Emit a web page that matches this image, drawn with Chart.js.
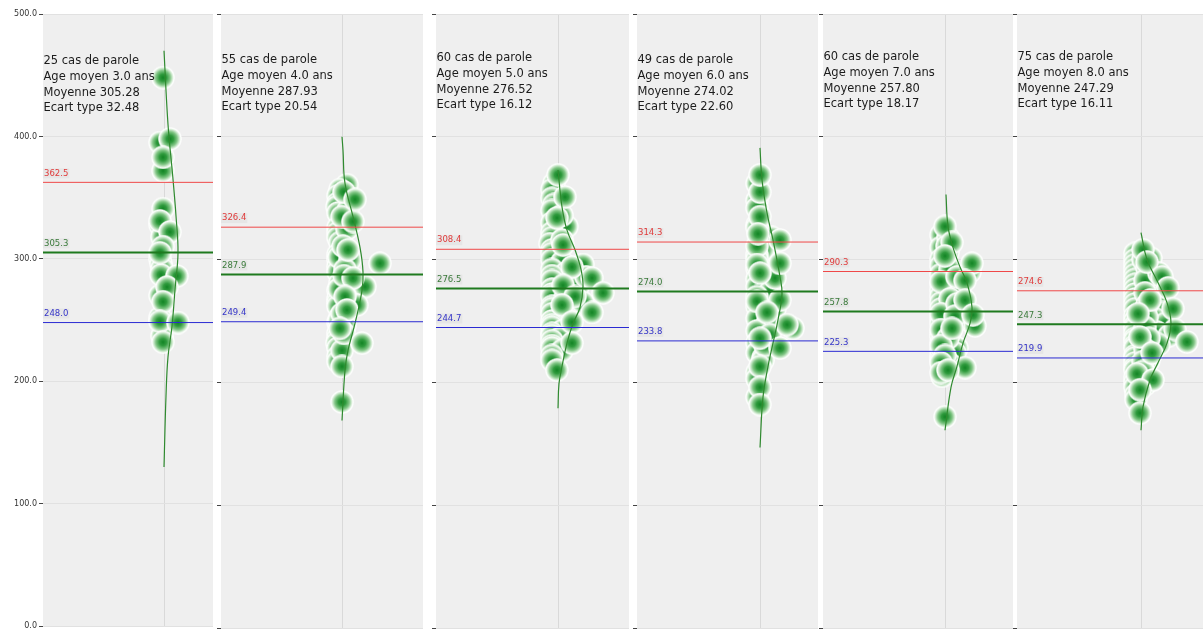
<!DOCTYPE html>
<html>
<head>
<meta charset="utf-8">
<script src="https://cdn.jsdelivr.net/npm/chart.js@4"></script>
<style>
    html, body { margin: 0; padding: 0; background: #fff; }
    #wrap { position: relative; width: 1203px; height: 633px; overflow: hidden; }
    .panel { position: absolute; top: 0; height: 633px; }
</style>
</head>
<body>
<div id="wrap"></div>
<script>
// ---- data ----
const casParole = [25, 55, 60, 49, 60, 75];
const ageMoyen = [3.0, 4.0, 5.0, 6.0, 7.0, 8.0];
const moyennes = [305.28, 287.93, 276.52, 274.02, 257.80, 247.29];
const ecartsType = [32.48, 20.54, 16.12, 22.60, 18.17, 16.11];
const ligneHaute = [362.5, 326.4, 308.4, 314.3, 290.3, 274.6];
const ligneMoyenne = [305.3, 287.9, 276.5, 274.0, 257.8, 247.3];
const ligneBasse = [248.0, 249.4, 244.7, 233.8, 225.3, 219.9];
const yTicks = [0, 100, 200, 300, 400, 500];

// points of each swarm (value, horizontal offset in the swarm), back ones first
const valeurs1 = [395, 328, 300, 296, 292, 287, 270, 252, 237, 318,
    448, 398, 372, 383, 341, 331, 322, 310, 305, 286, 277, 265, 249, 248, 232];
const decal1 = [-4, -4, -4, -3, -2, -3, -4, -4, -2, -2,
    -1, 6, -1, -1, -1, -4, 6, -1, -4, 13, 3, -1, -4, 14, -1];

const valeurs2 = [361, 357, 352, 346, 343, 338, 326, 322, 318, 314, 304, 300, 294, 290, 281, 275, 268, 265, 262, 253,
    249, 240, 236, 232, 228, 221, 217, 250, 276, 302, 278, 263, 340, 325, 300, 246, 226, 292, 355, 335, 311, 287, 256, 240,
    349, 331, 308, 297, 285, 270, 259, 244, 232, 213, 184];
const decal2 = [5, -2, -4, -4, -5, -4, -4, -4, -4, -2, -4, -4, -4, -4, -2, -4, -4, -4, -4, -2,
    -4, -4, -4, -5, -4, -4, -4, -3, -3, -3, 23, 15, 6, 5, 8, 3, 0, 3, 2, 0, 1, 2, 0, 2,
    13, 11, 6, 38, 11, 3, 5, -2, 20, 0, 0];

const valeurs3 = [362, 357, 350, 345, 340, 330, 327, 322, 318, 313, 308, 305, 300, 298, 292, 289, 287, 283, 281, 278,
    276, 272, 270, 267, 265, 262, 260, 256, 253, 250, 247, 245, 242, 240, 238, 236, 234, 230, 228, 226,
    222, 218, 316, 336, 296, 286,
    369, 351, 334, 312, 294, 285, 279, 273, 270, 263, 257, 249, 232, 210];
const decal3 = [-4, -6, -6, -4, -6, -6, 9, -6, -6, -8, -6, -6, -6, 4, -6, 8, -6, -6, 12, 20,
    -6, -6, -6, 6, 25, -6, -6, -6, 6, -6, -6, -6, 4, -6, -6, 2, -6, -6, -6, 4,
    -6, -6, 4, 4, 25, 28,
    0, 7, -1, 5, 14, 34, 5, 45, 17, 4, 34, 14, 14, -1];

const valeurs4 = [362, 348, 342, 328, 318, 308, 304, 300, 293, 284, 280, 278, 274, 270, 262, 260, 252, 250, 244, 242,
    232, 224, 220, 218, 208, 203, 188, 230, 311, 326, 285, 239, 266, 296,
    355, 369, 335, 321, 316, 297, 289, 267, 257, 247, 236, 228, 213, 196, 182];
const decal4 = [-3, -3, -3, -3, 12, 3, -3, -3, -3, -3, 7, -3, 10, -3, -3, 15, -3, 8, 33, -3,
    -3, -3, 3, 3, -3, -3, -3, 5, -3, -3, 15, 10, -3, -3,
    0, 0, 0, -2, 20, 20, 0, 20, 7, 27, 0, 20, 0, 0, 0];

const valeurs5 = [320, 310, 300, 295, 290, 288, 285, 280, 277, 275, 272, 270, 265, 262, 260, 258, 252, 250, 248, 246,
    240, 237, 234, 232, 228, 226, 224, 221, 218, 215, 205, 241, 251, 318, 306, 292, 282, 268, 256, 243,
    236, 230, 222, 216, 208, 311, 286, 264, 254,
    327, 314, 303, 297, 283, 267, 255, 244, 212, 210, 172];
const decal5 = [-4, -4, -4, -4, 25, -4, 8, -4, 8, -4, 15, -4, -4, 5, -4, 15, -4, 25, -4, 30,
    -4, -4, 3, -4, 12, -4, 10, -4, -4, 5, -3, 5, 5, 3, 3, 5, -4, 5, -4, -4,
    3, -4, 0, -4, -4, 2, 12, 12, 10,
    0, 7, 0, 27, 20, 20, 28, 7, 20, 3, 0];

const valeurs6 = [305, 300, 296, 292, 290, 288, 284, 281, 280, 276, 274, 272, 270, 268, 264, 262, 260, 257, 254, 252,
    250, 248, 246, 244, 241, 240, 238, 236, 234, 231, 230, 228, 226, 222, 220, 218, 216, 214, 212, 210,
    206, 204, 200, 198, 196, 190, 186, 300, 293, 283, 273, 263, 253, 245, 236, 227, 217, 209, 301, 289,
    308, 298, 286, 277, 267, 260, 256, 243, 237, 233, 224, 207, 202, 194, 175];
const decal6 = [-6, -6, -6, -6, 12, -6, -6, 14, -6, -6, 16, -6, 20, -6, -6, 18, -6, 22, -6, 14,
    -6, 24, -6, -6, 16, -6, 28, -6, -6, 18, -6, -6, 6, -6, -6, 8, -6, 4, -6, -6,
    6, -6, -6, 4, -6, -5, -5, 2, 6, 4, 4, 6, 6, 4, 8, 4, 2, 2, 10, 18,
    2, 6, 21, 27, 9, 32, -3, 34, -1, 46, 11, -4, 12, -1, -1];

// density curve of each panel, read along its length (value, offset)
const courbeY1 = [470, 410, 365, 335, 305, 275, 245, 220, 188, 130];
const courbeX1 = [0, 4, 9, 12, 14, 11, 8, 4, 2, 0];
const courbeY2 = [400, 389, 362, 335, 310, 290, 275, 248, 226, 210, 169];
const courbeX2 = [0, 1, 3, 11, 18, 21, 20, 13, 6, 3, 0];
const courbeY3 = [373, 343, 324, 308, 292, 278, 261, 248, 232, 213, 199, 179];
const courbeX3 = [0, 4, 9, 17, 23, 25, 22, 15, 9, 4, 1, 0];
const courbeY4 = [391, 365, 338, 316, 286, 272, 251, 232, 213, 188, 147];
const courbeX4 = [0, 2, 7, 13, 20, 22, 18, 13, 8, 3, 0];
const courbeY5 = [353, 327, 310, 294, 281, 261, 248, 232, 213, 196, 161];
const courbeX5 = [1, 3, 8, 15, 22, 27, 25, 18, 12, 6, 0];
const courbeY6 = [322, 300, 283, 265, 248, 232, 216, 202, 180, 161];
const courbeX6 = [0, 6, 16, 26, 30, 26, 17, 9, 2, 0];

const valeurs = [valeurs1, valeurs2, valeurs3, valeurs4, valeurs5, valeurs6];
const decalages = [decal1, decal2, decal3, decal4, decal5, decal6];
const courbesY = [courbeY1, courbeY2, courbeY3, courbeY4, courbeY5, courbeY6];
const courbesX = [courbeX1, courbeX2, courbeX3, courbeX4, courbeX5, courbeX6];

// ---- layout ----
const panelLeft = [43, 221, 436, 637, 823, 1017];
const panelRight = [213, 423, 629, 818, 1013, 1203];
const panelCenter = [164, 342, 558, 760, 945, 1141];
const texteTop = [61, 60, 58, 60, 57, 57];

function creerBulle() {
    const c = document.createElement("canvas");
    c.width = 24;
    c.height = 24;
    const g = c.getContext("2d");
    const grad = g.createRadialGradient(12, 12, 0, 12, 12, 12);
    grad.addColorStop(0, "rgb(18,132,36)");
    grad.addColorStop(0.3, "rgb(48,155,62)");
    grad.addColorStop(0.6, "rgb(130,198,134)");
    grad.addColorStop(0.8, "rgb(214,237,214)");
    grad.addColorStop(0.9, "rgb(252,254,252)");
    grad.addColorStop(1, "rgba(255,255,255,0.5)");
    g.fillStyle = grad;
    g.beginPath();
    g.arc(12, 12, 12, 0, Math.PI * 2);
    g.fill();
    return c;
}
const bulle = creerBulle();

const fondPlugin = {
    id: "fond",
    beforeDraw(chart) {
        const a = chart.chartArea;
        const ctx = chart.ctx;
        ctx.save();
        ctx.fillStyle = "#efefef";
        ctx.fillRect(a.left, a.top, a.right - a.left, a.bottom - a.top);
        ctx.restore();
    }
};

const textePlugin = {
    id: "textes",
    afterDraw(chart) {
        const i = chart.options.plugins.textes.index;
        const a = chart.chartArea;
        const ctx = chart.ctx;
        const y = chart.scales.y;
        ctx.save();

        // labels over the three horizontal lines
        ctx.font = "8.5px 'DejaVu Sans'";
        ctx.textBaseline = "middle";
        ctx.textAlign = "left";
        [[ligneHaute[i], "#e03a3a"], [ligneMoyenne[i], "#3a7a3a"], [ligneBasse[i], "#3434c8"]].forEach(([v, col]) => {
            const py = y.getPixelForValue(v) - 9;
            const txt = v.toFixed(1);
            const w = ctx.measureText(txt).width;
            ctx.fillStyle = "rgba(0,0,0,0.035)";
            ctx.fillRect(a.left, py - 5, w + 2, 10);
            ctx.fillStyle = col;
            ctx.fillText(txt, a.left + 1, py);
        });

        // summary block
        ctx.font = "11.5px 'DejaVu Sans'";
        ctx.fillStyle = "#1c1c1c";
        const lignes = [
            casParole[i] + " cas de parole",
            "Age moyen " + ageMoyen[i].toFixed(1) + " ans",
            "Moyenne " + moyennes[i].toFixed(2),
            "Ecart type " + ecartsType[i].toFixed(2)
        ];
        lignes.forEach((l, k) => ctx.fillText(l, a.left + 0.5, texteTop[i] + k * 15.8));
        ctx.restore();
    }
};

const wrap = document.getElementById("wrap");

for (let i = 0; i < 6; i++) {
    const axisW = i === 0 ? 43 : 8;
    const div = document.createElement("div");
    div.className = "panel";
    div.style.left = (panelLeft[i] - axisW) + "px";
    div.style.width = (panelRight[i] - panelLeft[i] + axisW) + "px";
    const canvas = document.createElement("canvas");
    div.appendChild(canvas);
    wrap.appendChild(div);

    const xmin = panelLeft[i] - panelCenter[i];
    const xmax = panelRight[i] - panelCenter[i];
    const ligne = (v) => [{ x: xmin, y: v }, { x: xmax, y: v }];

    new Chart(canvas, {
        type: "scatter",
        data: {
            datasets: [
                { data: ligne(ligneHaute[i]), showLine: true, borderColor: "#ef4848", borderWidth: 1, pointRadius: 0, order: 0 },
                { data: ligne(ligneMoyenne[i]), showLine: true, borderColor: "#1f7a1f", borderWidth: 2, pointRadius: 0, order: 0 },
                { data: ligne(ligneBasse[i]), showLine: true, borderColor: "#2a2ad2", borderWidth: 1, pointRadius: 0, order: 0 },
                {
                    data: courbesY[i].map((v, k) => ({ x: courbesX[i][k], y: v })),
                    showLine: true, borderColor: "#2f8a2f", borderWidth: 1.2, tension: 0.4, pointRadius: 0, order: 1
                },
                {
                    data: valeurs[i].map((v, k) => ({ x: decalages[i][k], y: v })),
                    pointStyle: bulle, pointRadius: 12, order: 2
                }
            ]
        },
        options: {
            animation: false,
            responsive: true,
            maintainAspectRatio: false,
            events: [],
            layout: { autoPadding: false, padding: { top: 14, bottom: 5, left: 0, right: 0 } },
            plugins: { legend: { display: false }, tooltip: { enabled: false }, textes: { index: i } },
            scales: {
                x: {
                    type: "linear", min: xmin, max: xmax,
                    afterBuildTicks: s => { s.ticks = [{ value: 0 }]; },
                    afterFit: s => { s.height = 0; },
                    ticks: { display: false },
                    grid: { color: "#d9d9d9", drawTicks: false },
                    border: { display: false }
                },
                y: {
                    min: 0, max: 500,
                    afterBuildTicks: s => { s.ticks = yTicks.map(v => ({ value: v })); },
                    afterFit: s => { s.width = axisW; },
                    ticks: {
                        display: i === 0, padding: 2, color: "#333",
                        font: { family: "DejaVu Sans", size: 8 },
                        callback: v => v.toFixed(1)
                    },
                    grid: { color: "#e1e1e1", tickColor: "#444", tickLength: 4 },
                    border: { display: false }
                }
            }
        },
        plugins: [fondPlugin, textePlugin]
    });
}
</script>
</body>
</html>
